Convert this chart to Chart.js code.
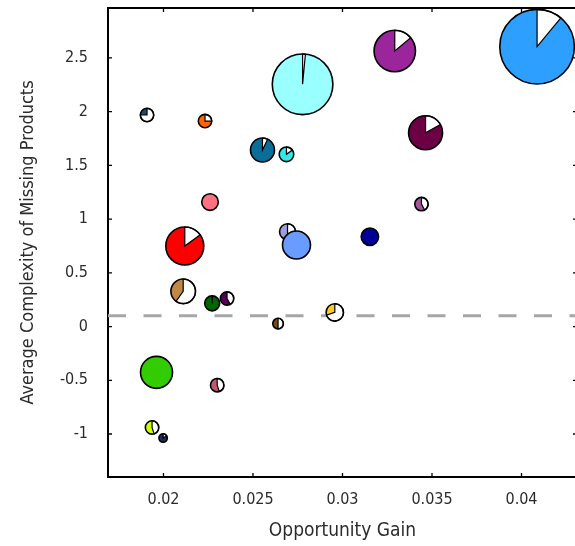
<!DOCTYPE html>
<html>
<head>
<meta charset="utf-8">
<script src="https://cdn.jsdelivr.net/npm/chart.js@4.4.0/dist/chart.umd.min.js"></script>
<style>
  html, body { margin: 0; padding: 0; background: #fff; overflow: hidden; }
  canvas { display: block; }
</style>
</head>
<body>
<canvas id="chart" width="580" height="546"></canvas>
<script>
// one entry per country / product group
const gain = [0.01908, 0.02232, 0.02553, 0.02687, 0.02777, 0.03292, 0.03464, 0.04087,
              0.03441, 0.02260, 0.02119, 0.02693, 0.02743, 0.03153, 0.02110, 0.02272,
              0.02355, 0.02640, 0.02957, 0.01961, 0.02300, 0.01936, 0.01998];
const complexity = [1.969, 1.913, 1.643, 1.603, 2.255, 2.565, 1.804, 2.605,
                    1.140, 1.159, 0.750, 0.883, 0.759, 0.836, 0.328, 0.216,
                    0.261, 0.028, 0.132, -0.426, -0.545, -0.939, -1.038];
// share of the pie left white (missing part)
const missingShare = [0.75, 0.25, 0.07, 0.15, 0.015, 0.14, 0.17, 0.11,
                      0.42, 0, 0.15, 0.5, 0, 0, 0.6, 0.004,
                      0.42, 0.5, 0.7, 0, 0.45, 0.45, 0.15];
// bubble size
const size = [6.7, 6.7, 12, 7.3, 30.3, 20.7, 17, 37.3,
              6.7, 8.3, 19, 8, 14, 8.7, 12.3, 7.5,
              6.7, 5.3, 8.7, 16, 6.7, 6.7, 4.2];
const colors = ['#284866', '#ff6600', '#0b6e99', '#33e8e8', '#99ffff', '#9b259b', '#6b0045', '#2d9fff',
                '#a3579b', '#ff7080', '#ff0000', '#9aa0dd', '#6a9cff', '#000099', '#c08848', '#006600',
                '#550055', '#7a4a20', '#ffcc22', '#33cc00', '#c05a70', '#ccff00', '#1a2b5c'];

const threshold = 0.1;
const xTickValues = [0.02, 0.025, 0.03, 0.035, 0.04];
const yTickValues = [-1, -0.5, 0, 0.5, 1, 1.5, 2, 2.5];
const xMin = 0.0169, xMax = 0.0431;
const yMin = -1.4, yMax = 2.965;

const FONT = "'Liberation Sans Narrow', 'DejaVu Sans Condensed', 'Arial Narrow', sans-serif";

const points = gain.map((g, i) => ({ x: g, y: complexity[i], r: size[i] }));

// box with inward ticks on all four sides
const framePlugin = {
    id: 'frame',
    beforeDatasetsDraw(chart) {
        const { ctx, chartArea: a, scales: { x, y } } = chart;
        ctx.save();
        ctx.strokeStyle = '#000';
        ctx.lineWidth = 2;
        ctx.strokeRect(a.left, a.top, a.right - a.left, a.bottom - a.top);
        ctx.lineWidth = 1.3;
        ctx.beginPath();
        x.ticks.forEach(t => {
            const px = x.getPixelForValue(t.value);
            ctx.moveTo(px, a.bottom); ctx.lineTo(px, a.bottom - 4);
            ctx.moveTo(px, a.top); ctx.lineTo(px, a.top + 4);
        });
        y.ticks.forEach(t => {
            const py = y.getPixelForValue(t.value);
            ctx.moveTo(a.left, py); ctx.lineTo(a.left + 4, py);
            ctx.moveTo(a.right, py); ctx.lineTo(a.right - 4, py);
        });
        ctx.stroke();
        ctx.restore();
    }
};

// draw every bubble as a little pie, in data order
const piePlugin = {
    id: 'pies',
    afterDatasetsDraw(chart) {
        const ctx = chart.ctx;
        const meta = chart.getDatasetMeta(1);
        meta.data.forEach((el, i) => {
            const r = el.options.radius;
            const cx = el.x, cy = el.y;
            ctx.save();
            ctx.beginPath();
            ctx.arc(cx, cy, r, 0, Math.PI * 2);
            ctx.fillStyle = colors[i];
            ctx.fill();
            const w = missingShare[i];
            if (w > 0) {
                const start = -Math.PI / 2;
                ctx.beginPath();
                ctx.moveTo(cx, cy);
                ctx.arc(cx, cy, r, start, start + w * Math.PI * 2);
                ctx.closePath();
                ctx.fillStyle = '#fff';
                ctx.fill();
                ctx.lineWidth = 1.2;
                ctx.strokeStyle = '#000';
                ctx.stroke();
            }
            ctx.beginPath();
            ctx.arc(cx, cy, r, 0, Math.PI * 2);
            ctx.lineWidth = 1.6;
            ctx.strokeStyle = '#000';
            ctx.stroke();
            ctx.restore();
        });
    }
};

const fmt = v => String(parseFloat(Number(v).toFixed(4)));

// keep the plot box fixed: no extra room for edge labels
const noPad = s => { s.paddingTop = 0; s.paddingBottom = 0; s.paddingLeft = 0; s.paddingRight = 0; };

new Chart(document.getElementById('chart'), {
    type: 'bubble',
    data: {
        datasets: [
            {
                type: 'line',
                data: [{ x: xMin, y: threshold }, { x: xMax, y: threshold }],
                borderColor: '#a6a6a6',
                borderWidth: 3,
                borderDash: [18, 17.5],
                pointRadius: 0,
                fill: false
            },
            {
                type: 'bubble',
                data: points,
                backgroundColor: 'rgba(0,0,0,0)',
                borderWidth: 0,
                hoverRadius: 0
            }
        ]
    },
    options: {
        responsive: false,
        animation: false,
        devicePixelRatio: 1,
        layout: { autoPadding: false, padding: { top: 8, right: 3, left: 0, bottom: 0 } },
        plugins: {
            legend: { display: false },
            tooltip: { enabled: false }
        },
        scales: {
            x: {
                type: 'linear',
                min: xMin,
                max: xMax,
                grid: { display: false, drawTicks: false },
                border: { display: false },
                afterBuildTicks: s => { s.ticks = xTickValues.map(v => ({ value: v })); },
                afterFit: s => { s.height = 69; noPad(s); },
                ticks: {
                    callback: fmt,
                    padding: 13,
                    color: '#2b2b2b',
                    font: { family: FONT, size: 16 }
                },
                title: {
                    display: true,
                    text: 'Opportunity Gain',
                    color: '#2b2b2b',
                    font: { family: FONT, size: 19 },
                    padding: { top: 0, bottom: 4 }
                }
            },
            y: {
                type: 'linear',
                min: yMin,
                max: yMax,
                grid: { display: false, drawTicks: false },
                border: { display: false },
                afterBuildTicks: s => { s.ticks = yTickValues.map(v => ({ value: v })); },
                afterFit: s => { s.width = 108; noPad(s); },
                ticks: {
                    callback: fmt,
                    padding: 20,
                    color: '#2b2b2b',
                    font: { family: FONT, size: 16 }
                },
                title: {
                    display: true,
                    text: 'Average Complexity of Missing Products',
                    color: '#2b2b2b',
                    font: { family: FONT, size: 18 },
                    padding: { top: 18, bottom: 0 }
                }
            }
        }
    },
    plugins: [framePlugin, piePlugin]
});
</script>
</body>
</html>
